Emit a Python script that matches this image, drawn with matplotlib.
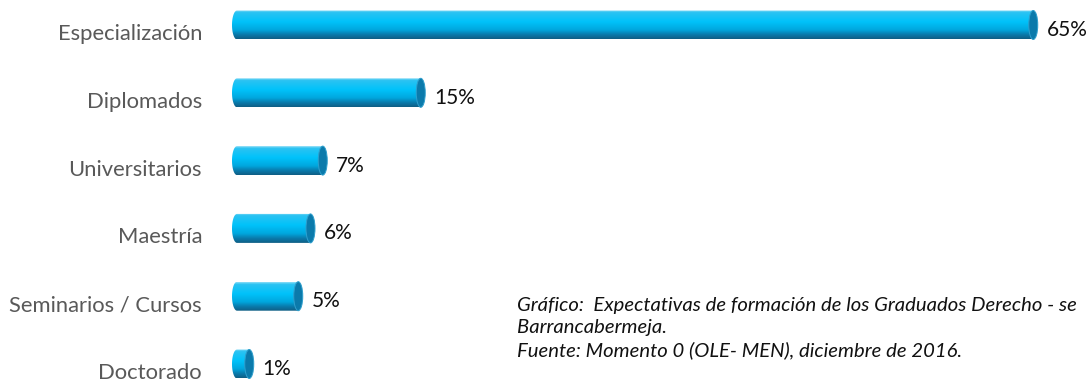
import numpy as np
import matplotlib.pyplot as plt
from matplotlib.colors import LinearSegmentedColormap
from matplotlib.patches import Ellipse, PathPatch
from matplotlib.path import Path

categories = ["Especialización", "Diplomados", "Universitarios", "Maestría",
              "Seminarios / Cursos", "Doctorado"]
values = [65, 15, 7, 6, 5, 1]
value_labels = ["65%", "15%", "7%", "6%", "5%", "1%"]
caption = [
    "Gráfico:  Expectativas de formación de los Graduados Derecho - se",
    "Barrancabermeja.",
    "Fuente: Momento 0 (OLE- MEN), diciembre de 2016.",
]

W, H = 1089, 383
PX_PER_UNIT = 12.25      # horizontal pixels per percentage point
ROW = 67.8               # vertical pixels between bars
X0, Y0 = 237, 25         # pixel position of the first bar's axis start

plt.rcParams["font.family"] = ["Lato", "DejaVu Sans"]

fig = plt.figure(figsize=(W / 100, H / 100), dpi=100)
ax = fig.add_axes([0, 0, 1, 1])
ax.set_xlim(-X0 / PX_PER_UNIT, (W - X0) / PX_PER_UNIT)
ax.set_ylim((H - Y0) / ROW, -Y0 / ROW)
ax.axis("off")

# cylinder shading, top to bottom
body_cmap = LinearSegmentedColormap.from_list("cyl", [
    (0.00, "#8adcf7"), (0.07, "#2cc3f2"), (0.40, "#00c2fa"),
    (0.68, "#00a8df"), (0.86, "#0a78a9"), (1.00, "#0f5f85")])
grad = np.linspace(0, 1, 64).reshape(-1, 1)

bar_h = 29 / ROW
left_a = 5 / PX_PER_UNIT
cap_a = 4.5 / PX_PER_UNIT
t = np.linspace(np.pi / 2, 3 * np.pi / 2, 40)

for i, (v, lab, vl) in enumerate(zip(values, categories, value_labels)):
    b = bar_h / 2
    # body: rounded left end plus straight run up to the cap
    xs = np.concatenate([left_a * np.cos(t), [v, v]])
    ys = np.concatenate([i - b * np.sin(t), [i + b, i - b]])
    body = PathPatch(Path(np.column_stack([xs, ys]), closed=False),
                     facecolor="none", edgecolor="none")
    ax.add_patch(body)
    img = ax.imshow(grad, cmap=body_cmap, aspect="auto",
                    extent=(-left_a, v, i + b, i - b), zorder=2)
    img.set_clip_path(body)

    cap = Ellipse((v, i), 2 * cap_a, bar_h, facecolor="#0b7aab",
                  edgecolor="#2f9fcd", linewidth=0.7, zorder=3)
    ax.add_patch(cap)

    ax.text(-35 / PX_PER_UNIT, i + 9 / ROW, lab, ha="right", va="center",
            fontsize=15.8, color="#595959")
    ax.text(v + (cap_a * PX_PER_UNIT + 9) / PX_PER_UNIT, i + 5 / ROW, vl,
            ha="left", va="center", fontsize=15, color="#111111")

for k, line in enumerate(caption):
    fig.text(517 / W, 1 - (305 + 22.5 * k) / H, line, ha="left", va="center",
             fontsize=14.6, style="italic", color="#111111")

fig.savefig("out.png", dpi=100)
